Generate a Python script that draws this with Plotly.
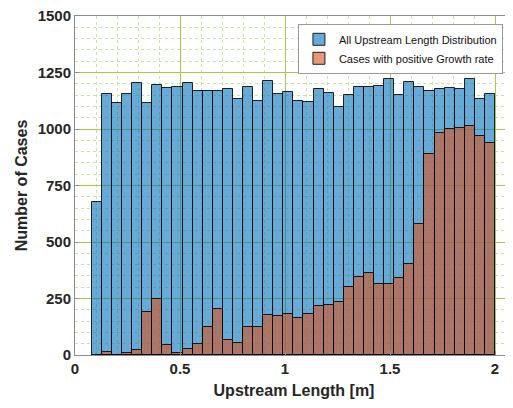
import numpy as np
import plotly.graph_objects as go

# Histogram bins (40 bins from 0.08 m to 2.0 m)
bin_start = 0.08
bin_width = 0.048

all_counts = [678, 1154, 1114, 1154, 1205, 1114, 1195, 1181, 1188, 1205,
              1169, 1167, 1169, 1179, 1132, 1188, 1122, 1214, 1154, 1162,
              1122, 1118, 1178, 1159, 1097, 1151, 1188, 1184, 1191, 1220,
              1149, 1207, 1184, 1166, 1179, 1182, 1175, 1223, 1132, 1153]

pos_counts = [0, 12, 2, 7, 21, 191, 246, 44, 11, 26,
              47, 122, 204, 68, 51, 123, 123, 178, 173, 181,
              165, 182, 217, 222, 235, 303, 347, 361, 313, 315,
              342, 401, 580, 891, 984, 1001, 1004, 1013, 971, 940]

x_ticks = [0, 0.5, 1, 1.5, 2]
y_ticks = [0, 250, 500, 750, 1000, 1250, 1500]

centers = bin_start + bin_width * (np.arange(len(all_counts)) + 0.5)

FONT = "Liberation Sans, Arial, sans-serif"
MAJOR = "rgb(160,205,70)"
MINOR = "rgb(200,228,165)"
AXC = "#8c8c8c"

fig = go.Figure()
fig.add_trace(go.Bar(
    x=centers, y=all_counts, width=bin_width,
    name="All Upstream Length Distribution",
    marker=dict(color="rgba(0,114,189,0.6)", line=dict(color="rgba(0,0,0,0.85)", width=1)),
))
fig.add_trace(go.Bar(
    x=centers, y=pos_counts, width=bin_width,
    name="Cases with positive Growth rate",
    marker=dict(color="rgba(217,83,25,0.6)", line=dict(color="rgba(0,0,0,0.85)", width=1)),
))

# page body adds an 8px offset; figure is sized to fill the rest of the window
fig.update_layout(
    width=505, height=400,
    margin=dict(l=67, r=0, t=8, b=53, autoexpand=False),
    barmode="overlay", bargap=0,
    plot_bgcolor="white", paper_bgcolor="white",
    font=dict(family=FONT, color="#262626"),
    showlegend=True,
    legend=dict(
        x=0.977, y=0.977, xanchor="right", yanchor="top",
        bgcolor="white", bordercolor="#9a9a9a", borderwidth=1,
        font=dict(size=11, family=FONT, color="#111"),
        itemwidth=30, tracegroupgap=0,
    ),
)

fig.update_xaxes(
    range=[0, 438 / 210], tickvals=x_ticks, ticktext=[str(v) for v in x_ticks],
    tickfont=dict(size=15, weight="bold", family=FONT, color="#262626"),
    title=dict(text="Upstream Length [m]", font=dict(size=16, weight="bold", family=FONT, color="#262626"), standoff=8),
    automargin=False,
    showgrid=True, gridcolor=MAJOR, gridwidth=1,
    minor=dict(dtick=0.1, showgrid=True, gridcolor=MINOR, griddash="dot", gridwidth=1, ticks=""),
    showline=True, linecolor=AXC, linewidth=1, mirror=True,
    ticks="inside", ticklen=4, tickcolor=AXC, zeroline=False,
)
fig.update_yaxes(
    range=[0, 1500], tickvals=y_ticks, ticktext=[str(v) for v in y_ticks],
    tickfont=dict(size=15, weight="bold", family=FONT, color="#262626"),
    title=dict(text="Number of Cases", font=dict(size=16, weight="bold", family=FONT, color="#262626"), standoff=6),
    automargin=False, ticklabeloverflow="allow",
    showgrid=True, gridcolor=MAJOR, gridwidth=1,
    minor=dict(dtick=50, showgrid=True, gridcolor=MINOR, griddash="dot", gridwidth=1, ticks=""),
    showline=True, linecolor=AXC, linewidth=1, mirror=True,
    ticks="inside", ticklen=4, tickcolor=AXC, zeroline=False,
)

fig.write_html("out.html")
